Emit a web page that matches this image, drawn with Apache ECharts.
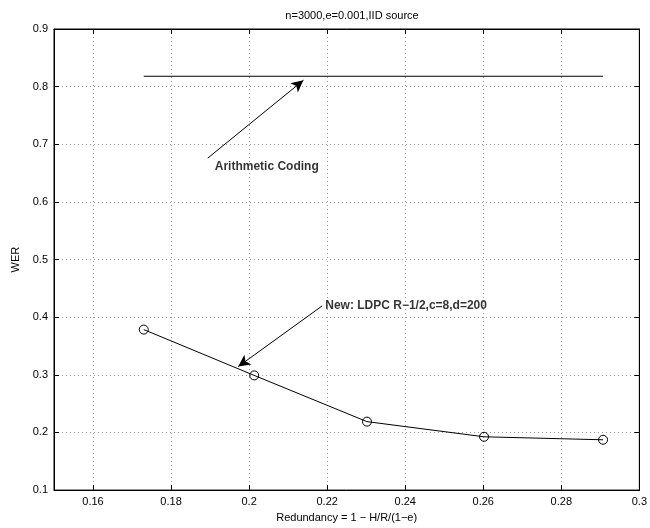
<!DOCTYPE html>
<html>
<head>
<meta charset="utf-8">
<script src="https://cdn.jsdelivr.net/npm/echarts@6/dist/echarts.min.js"></script>
<style>
  html, body { margin: 0; padding: 0; background: #fff; }
  #chart { width: 650px; height: 528px; }
</style>
</head>
<body>
<div id="chart"></div>
<script>
// values
const redundancy = [0.173, 0.2013, 0.2302, 0.2602, 0.2907];
const ldpcWer = [0.3785, 0.299, 0.2188, 0.1925, 0.1873];
const arithX = [0.173, 0.2907];
const arithWer = [0.818, 0.818];
const xTicks = [0.16, 0.18, 0.2, 0.22, 0.24, 0.26, 0.28, 0.3];

// annotation arrows: [tailX, tailY, tipX, tipY]
const arrowArith = [0.1894, 0.676, 0.2139, 0.811];
const arrowLdpc = [0.2187, 0.4195, 0.1972, 0.3143];
const labelArith = [0.1912, 0.661, 'Arithmetic Coding'];
const labelLdpc = [0.2195, 0.4195, 'New: LDPC R\u22121/2,c=8,d=200'];

const font = 'Liberation Sans, Arial, Helvetica, sans-serif';

const chart = echarts.init(document.getElementById('chart'));

const gridLine = { show: true, lineStyle: { color: '#999', type: [1, 3], width: 1 } };
const tick = { show: true, inside: true, length: 5, lineStyle: { color: '#000' } };

const option = {
  animation: false,
  title: {
    text: 'n=3000,e=0.001,IID source',
    left: 347, top: 5, textAlign: 'center',
    textStyle: { fontFamily: font, fontSize: 11, fontWeight: 'normal', color: '#000' }
  },
  grid: { left: 54, right: 9, top: 29, bottom: 35, show: true, borderColor: '#000', borderWidth: 1 },
  xAxis: [{
    type: 'value', min: 0.15, max: 0.3,
    name: 'Redundancy = 1 \u2212 H/R/(1\u2212e)', nameLocation: 'middle', nameGap: 19,
    nameTextStyle: { fontFamily: font, fontSize: 11, color: '#000' },
    axisLine: { lineStyle: { color: '#000' } },
    axisTick: Object.assign({ customValues: xTicks }, tick),
    axisLabel: { customValues: xTicks, fontFamily: font, fontSize: 11, color: '#000', margin: 6 },
    splitLine: gridLine
  }, {
    type: 'value', min: 0.15, max: 0.3, position: 'top',
    axisLine: { show: true, lineStyle: { color: '#000' } },
    axisTick: Object.assign({ customValues: xTicks }, tick),
    axisLabel: { show: false },
    splitLine: { show: false }
  }],
  yAxis: [{
    type: 'value', min: 0.1, max: 0.9, interval: 0.1,
    name: 'WER', nameLocation: 'middle', nameGap: 32, nameRotate: 90,
    nameTextStyle: { fontFamily: font, fontSize: 11, color: '#000' },
    axisLine: { show: true, lineStyle: { color: '#000' } },
    axisTick: tick,
    axisLabel: { fontFamily: font, fontSize: 11, color: '#000', margin: 6, formatter: v => v.toFixed(1) },
    splitLine: gridLine
  }, {
    type: 'value', min: 0.1, max: 0.9, interval: 0.1, position: 'right',
    axisLine: { show: true, lineStyle: { color: '#000' } },
    axisTick: tick,
    axisLabel: { show: false },
    splitLine: { show: false }
  }],
  series: [{
    name: 'LDPC',
    type: 'line',
    data: redundancy.map((x, i) => [x, ldpcWer[i]]),
    symbol: 'circle', symbolSize: 9,
    itemStyle: { color: 'rgba(255,255,255,0)', borderColor: '#000', borderWidth: 1 },
    lineStyle: { color: '#000', width: 1 },
    markLine: {
      silent: true, symbol: ['none', 'arrow'], symbolSize: [9, 12],
      lineStyle: { color: '#000', width: 1, type: 'solid' },
      label: { show: false },
      data: [arrowArith, arrowLdpc].map(a => [{ coord: [a[0], a[1]] }, { coord: [a[2], a[3]] }])
    }
  }, {
    name: 'Arithmetic',
    type: 'line',
    data: arithX.map((x, i) => [x, arithWer[i]]),
    symbol: 'none',
    lineStyle: { color: '#000', width: 1 }
  }, {
    name: 'labels',
    type: 'scatter',
    symbolSize: 0,
    data: [labelArith, labelLdpc].map(l => ({ value: [l[0], l[1]], name: l[2] })),
    label: {
      show: true, position: 'right', distance: 0, formatter: p => p.name,
      fontFamily: font, fontSize: 12, fontWeight: 'bold', color: '#000'
    }
  }]
};

chart.setOption(option);
</script>
</body>
</html>
